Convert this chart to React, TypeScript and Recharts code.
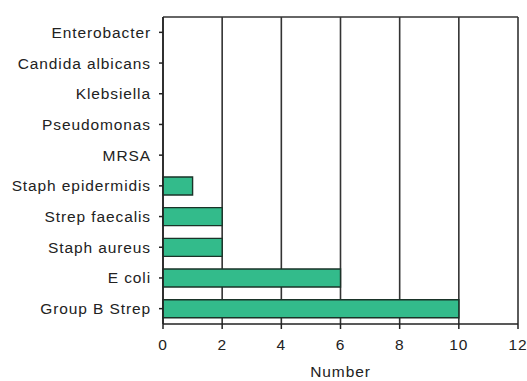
import { Bar, BarChart, CartesianGrid, XAxis, YAxis } from "recharts";

const organisms = [
  "Enterobacter",
  "Candida albicans",
  "Klebsiella",
  "Pseudomonas",
  "MRSA",
  "Staph epidermidis",
  "Strep faecalis",
  "Staph aureus",
  "E coli",
  "Group B Strep",
];
const counts = [0, 0, 0, 0, 0, 1, 2, 2, 6, 10];
const xTicks = [0, 2, 4, 6, 8, 10, 12];

const data = organisms.map((name, i) => ({ name, count: counts[i] }));

const textStyle = { fontSize: 15.5, fill: "#222", fontFamily: "Arial, 'Liberation Sans', sans-serif", letterSpacing: 0.9 };

export default function App() {
  return (
    <div style={{ position: "absolute", left: 0, top: 0, background: "#fff" }}>
      <BarChart
        width={527}
        height={381}
        data={data}
        layout="vertical"
        margin={{ top: 17, right: 9, bottom: 0, left: 0 }}
        barCategoryGap="21%"
      >
        <CartesianGrid
          stroke="#333"
          strokeWidth={1.6}
          horizontalCoordinatesGenerator={({ offset }: any) => [offset.top]}
        />
        <XAxis
          type="number"
          domain={[0, 12]}
          ticks={xTicks}
          stroke="#222"
          strokeWidth={1.5}
          tick={textStyle}
          tickSize={5}
          tickMargin={10}
          height={57}
          label={{ value: "Number", position: "insideBottom", offset: 4, style: textStyle }}
        />
        <YAxis
          type="category"
          dataKey="name"
          width={163}
          stroke="#222"
          strokeWidth={1.5}
          tick={textStyle}
          tickSize={4}
          tickMargin={8}
        />
        <Bar dataKey="count" fill="#33bb8b" stroke="#1a3328" strokeWidth={1.4} isAnimationActive={false} />
      </BarChart>
    </div>
  );
}
